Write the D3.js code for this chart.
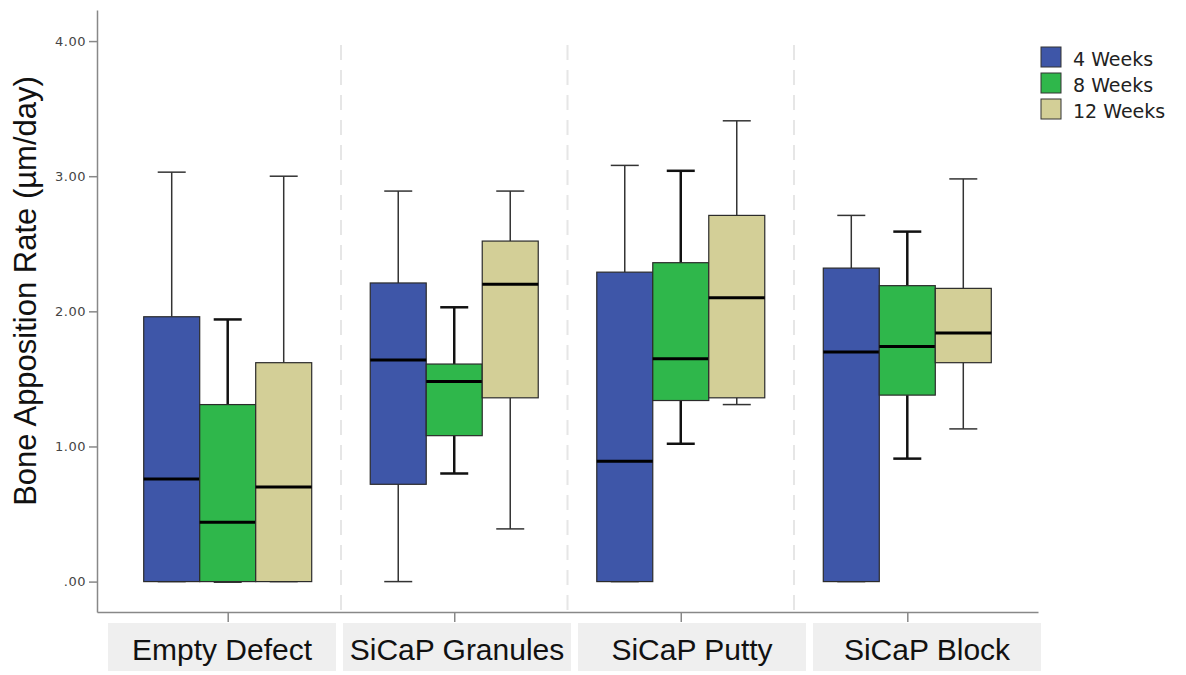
<!DOCTYPE html>
<html>
<head>
<meta charset="utf-8">
<script src="https://cdn.jsdelivr.net/npm/d3@7"></script>
<style>
  body { margin: 0; background: #fff; }
  svg { display: block; }
</style>
</head>
<body>
<svg id="chart" width="1186" height="675"></svg>
<script>
// groups on the x axis
const categories = ["Empty Defect", "SiCaP Granules", "SiCaP Putty", "SiCaP Block"];
const series = ["4 Weeks", "8 Weeks", "12 Weeks"];

// [min, q1, median, q3, max] per category
const weeks4 = [
    [0.00, 0.00, 0.76, 1.96, 3.03],
    [0.00, 0.72, 1.64, 2.21, 2.89],
    [0.00, 0.00, 0.89, 2.29, 3.08],
    [0.00, 0.00, 1.70, 2.32, 2.71]
];
const weeks8 = [
    [0.00, 0.00, 0.44, 1.31, 1.94],
    [0.80, 1.08, 1.48, 1.61, 2.03],
    [1.02, 1.34, 1.65, 2.36, 3.04],
    [0.91, 1.38, 1.74, 2.19, 2.59]
];
const weeks12 = [
    [0.00, 0.00, 0.70, 1.62, 3.00],
    [0.39, 1.36, 2.20, 2.52, 2.89],
    [1.31, 1.36, 2.10, 2.71, 3.41],
    [1.13, 1.62, 1.84, 2.17, 2.98]
];
const yTicks = [0, 1, 2, 3, 4];

const colors = ["#3e56a8", "#2fb74b", "#d3cf97"];

let allSeries = [weeks4, weeks8, weeks12];

let svg = d3.select("#chart");

// scales
let x = d3.scalePoint()
          .domain(categories)
          .range([97, 1038])
          .padding(0.577);
let xSub = d3.scaleBand()
             .domain(series)
             .range([-84, 84]);
let y = d3.scaleLinear()
          .domain([-0.225, 4.23])
          .range([612, 10]);
let labelX = d3.scalePoint()
               .domain(categories)
               .range([222, 927]);

// dashed separators between groups
let step = x.step();
svg.append("g")
   .selectAll("line")
   .data(categories.slice(0, -1))
   .enter().append("line")
   .attr("x1", d => x(d) + step / 2)
   .attr("x2", d => x(d) + step / 2)
   .attr("y1", 45)
   .attr("y2", y.range()[0])
   .attr("stroke", "#e6e6e6")
   .attr("stroke-width", 2)
   .attr("stroke-dasharray", "15,10");

// axes
let yAxis = d3.axisLeft(y)
              .tickValues(yTicks)
              .tickSize(8)
              .tickSizeOuter(0)
              .tickPadding(3)
              .tickFormat(d => d === 0 ? ".00" : d.toFixed(2));
let yG = svg.append("g")
   .attr("transform", "translate(97,0)")
   .call(yAxis);
yG.selectAll("path, line").attr("stroke", "#888").attr("stroke-width", 1.5);
yG.selectAll("text")
  .attr("fill", "#444")
  .style("font-family", "DejaVu Sans")
  .style("font-size", "13px")
  .style("letter-spacing", "0.5px");

let xAxis = d3.axisBottom(x)
              .tickSize(10)
              .tickSizeOuter(0)
              .tickFormat("");
let xG = svg.append("g")
   .attr("transform", "translate(0,612)")
   .call(xAxis);
xG.selectAll("path, line").attr("stroke", "#888").attr("stroke-width", 1.5);

// category label panels
let labels = svg.append("g");
labels.selectAll("rect")
      .data(categories)
      .enter().append("rect")
      .attr("x", d => labelX(d) - 114)
      .attr("y", 623)
      .attr("width", 228)
      .attr("height", 48)
      .attr("fill", "#efefef");
labels.selectAll("text")
      .data(categories)
      .enter().append("text")
      .attr("x", d => labelX(d))
      .attr("y", 660)
      .attr("text-anchor", "middle")
      .attr("fill", "#111")
      .style("font-family", "Liberation Sans, Arial, sans-serif")
      .style("font-size", "30px")
      .text(d => d);

// y title
svg.append("text")
   .attr("transform", "translate(36,291) rotate(-90)")
   .attr("text-anchor", "middle")
   .attr("fill", "#111")
   .style("font-family", "Liberation Sans, Arial, sans-serif")
   .style("font-size", "31px")
   .text("Bone Apposition Rate (\u00b5m/day)");

// boxes
let boxW = xSub.bandwidth();
allSeries.forEach(function(vals, s) {
    let name = series[s];
    let g = svg.append("g").attr("class", "series");
    let rows = vals.map((v, i) => ({cat: categories[i], v: v}));
    let cx = d => x(d.cat) + xSub(name) + boxW / 2;
    let wColor = s === 1 ? "#111" : "#333";
    let wWidth = s === 1 ? 2.5 : 1.5;

    // whisker stems
    g.selectAll(".upper")
     .data(rows).enter().append("line")
     .attr("x1", cx).attr("x2", cx)
     .attr("y1", d => y(d.v[3])).attr("y2", d => y(d.v[4]))
     .attr("stroke", wColor).attr("stroke-width", wWidth);
    g.selectAll(".lower")
     .data(rows).enter().append("line")
     .attr("x1", cx).attr("x2", cx)
     .attr("y1", d => y(d.v[1])).attr("y2", d => y(d.v[0]))
     .attr("stroke", wColor).attr("stroke-width", wWidth);

    // caps
    [0, 4].forEach(function(k) {
        g.selectAll(".cap" + k)
         .data(rows).enter().append("line")
         .attr("x1", d => cx(d) - boxW / 4).attr("x2", d => cx(d) + boxW / 4)
         .attr("y1", d => y(d.v[k])).attr("y2", d => y(d.v[k]))
         .attr("stroke", wColor).attr("stroke-width", wWidth);
    });

    // box
    g.selectAll("rect")
     .data(rows).enter().append("rect")
     .attr("x", d => x(d.cat) + xSub(name))
     .attr("y", d => y(d.v[3]))
     .attr("width", boxW)
     .attr("height", d => y(d.v[1]) - y(d.v[3]))
     .attr("fill", colors[s])
     .attr("stroke", "#2b2b2b")
     .attr("stroke-width", 1.2);

    // median
    g.selectAll(".median")
     .data(rows).enter().append("line")
     .attr("x1", d => x(d.cat) + xSub(name)).attr("x2", d => x(d.cat) + xSub(name) + boxW)
     .attr("y1", d => y(d.v[2])).attr("y2", d => y(d.v[2]))
     .attr("stroke", "#000").attr("stroke-width", 3);
});

// legend
let legend = svg.append("g").attr("transform", "translate(1041,47)");
let items = legend.selectAll("g")
      .data(series)
      .enter().append("g")
      .attr("transform", (d, i) => "translate(0," + (i * 26) + ")");
items.append("rect")
     .attr("width", 20)
     .attr("height", 20)
     .attr("fill", (d, i) => colors[i])
     .attr("stroke", "#333")
     .attr("stroke-width", 1);
items.append("text")
     .attr("x", 32)
     .attr("y", 19)
     .attr("fill", "#222")
     .style("font-family", "DejaVu Sans")
     .style("font-size", "19px")
     .text(d => d);
</script>
</body>
</html>
